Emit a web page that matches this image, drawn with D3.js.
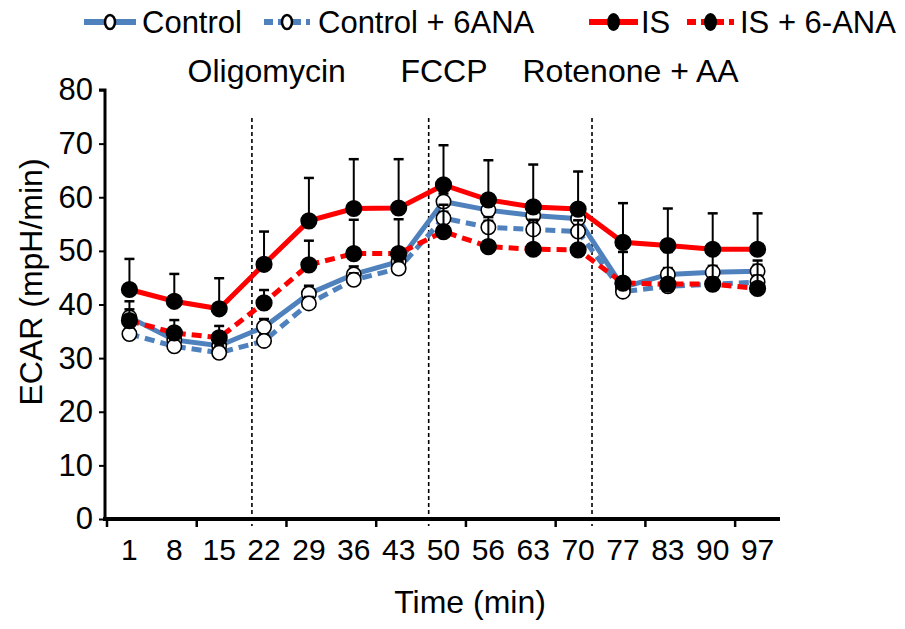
<!DOCTYPE html>
<html><head><meta charset="utf-8">
<script src="https://cdn.jsdelivr.net/npm/d3@7"></script>
<style>body{margin:0;background:#fff}svg{display:block}text{font-family:"Liberation Sans",Arial,sans-serif;fill:#000}</style>
</head><body><svg id="c" width="905" height="629"></svg>
<script>
const times = ["1","8","15","22","29","36","43","50","56","63","70","77","83","90","97"];
const yTicks = [0,10,20,30,40,50,60,70,80];
const control    = [37.6,33.4,32.3,35.8,42.0,45.6,48.0,59.2,57.6,56.6,56.0,43.2,45.6,46.0,46.2];
const controlErr = [1.5,1.2,1.2,1.5,1.5,1.5,1.5,1.5,1.5,1.5,1.5,1.2,1.2,1.2,1.2];
const control6   = [34.5,32.2,31.0,33.2,40.2,44.6,46.7,56.1,54.4,54.0,53.6,42.4,43.4,43.8,44.2];
const control6Err= [1.2,1.2,1.2,1.2,1.2,1.2,1.2,1.2,1.2,1.2,1.2,1.2,1.2,1.2,1.2];
const isVals     = [42.8,40.6,39.2,47.5,55.6,57.9,58.0,62.3,59.5,58.2,57.8,51.6,51.0,50.3,50.3];
const isErr      = [5.7,5.1,5.7,6.1,8.0,9.2,9.1,7.4,7.4,7.9,7.0,7.3,6.9,6.7,6.7];
const is6        = [37.0,34.7,33.8,40.3,47.4,49.5,49.5,53.6,50.8,50.3,50.2,44.0,43.8,43.8,43.0];
const is6Err     = [3.6,2.4,2.2,2.4,4.5,6.3,6.4,5.0,5.5,5.5,5.5,5.8,6.0,5.5,5.2];
const seriesNames = ["Control","Control + 6ANA","IS","IS + 6-ANA"];
const injections = ["Oligomycin","FCCP","Rotenone + AA"];
const injectionAt = [3.23,7.17,10.81];      // in category units
const injectionLabelAt = [3.56,7.51,11.67];  // label centres, category units

const svg = d3.select("#c");
const L=107, R=780, T=90, B=519;
const x = d3.scaleBand().domain(times).range([L,R]).padding(0);
const xu = d3.scaleLinear().domain([0,times.length]).range([L,R]);
const y = d3.scaleLinear().domain([0,80]).range([B,T]);
const cx = d => x(d)+x.bandwidth()/2;

const blue="#4f81bd", red="#ff0000";
const series = [
  {name:seriesNames[0], v:control,  e:controlErr,  color:blue, dash:null,    fill:"#fff"},
  {name:seriesNames[1], v:control6, e:control6Err, color:blue, dash:"10,6",  fill:"#fff"},
  {name:seriesNames[2], v:isVals,   e:isErr,       color:red,  dash:null,    fill:"#000"},
  {name:seriesNames[3], v:is6,      e:is6Err,      color:red,  dash:"10,6",  fill:"#000"}
];

// injection dashed lines
svg.selectAll(".inj").data(injectionAt).join("line")
  .attr("x1",d=>xu(d)).attr("x2",d=>xu(d)).attr("y1",118).attr("y2",526)
  .attr("stroke","#000").attr("stroke-width",1.6).attr("stroke-dasharray","4,3");
svg.selectAll(".injl").data(injections).join("text")
  .attr("x",(d,i)=>xu(injectionLabelAt[i])).attr("y",82)
  .attr("text-anchor","middle").attr("font-size",32).text(d=>d);

// axes
const ya = svg.append("g").attr("transform",`translate(${L-2},0)`)
  .call(d3.axisLeft(y).tickValues(yTicks).tickSize(6).tickPadding(6));
ya.select(".domain").attr("stroke-width",3).attr("d",`M-6,${T}H0V${B+2}`);
ya.selectAll(".tick line").attr("stroke-width",2);
ya.selectAll("text").attr("font-size",31).style("font-family","Liberation Sans, Arial");

const xa = svg.append("g").attr("transform",`translate(0,${B})`)
  .call(d3.axisBottom(x).tickSize(0).tickPadding(20));
xa.select(".domain").attr("stroke-width",4).attr("d",`M${L-4},0H${R}`);
xa.selectAll("text").attr("font-size",30).style("font-family","Liberation Sans, Arial");
xa.selectAll(".tick line").remove();
// tick marks at every second category boundary
svg.append("g").selectAll("line").data(times.filter((d,i)=>i%2===0)).join("line")
  .attr("x1",d=>x(d)).attr("x2",d=>x(d)).attr("y1",B).attr("y2",B+8)
  .attr("stroke","#000").attr("stroke-width",2.5);

svg.append("text").attr("transform",`translate(42,282) rotate(-90)`)
  .attr("text-anchor","middle").attr("font-size",32).text("ECAR (mpH/min)");
svg.append("text").attr("x",470).attr("y",613).attr("text-anchor","middle")
  .attr("font-size",32).text("Time (min)");

// series
const line = d3.line().x((d,i)=>cx(times[i])).y(d=>y(d));
series.forEach(s=>{
  svg.append("path").datum(s.v).attr("d",line).attr("fill","none")
    .attr("stroke",s.color).attr("stroke-width",5).attr("stroke-dasharray",s.dash);
});
series.forEach(s=>{
  const g = svg.append("g");
  g.selectAll(".eb").data(s.v).join("line")
    .attr("x1",(d,i)=>cx(times[i])).attr("x2",(d,i)=>cx(times[i]))
    .attr("y1",d=>y(d)).attr("y2",(d,i)=>y(d+s.e[i]))
    .attr("stroke","#000").attr("stroke-width",2);
  g.selectAll(".cap").data(s.v).join("line")
    .attr("x1",(d,i)=>cx(times[i])-5).attr("x2",(d,i)=>cx(times[i])+5)
    .attr("y1",(d,i)=>y(d+s.e[i])).attr("y2",(d,i)=>y(d+s.e[i]))
    .attr("stroke","#000").attr("stroke-width",2.5);
  g.selectAll("circle").data(s.v).join("circle")
    .attr("cx",(d,i)=>cx(times[i])).attr("cy",d=>y(d))
    .attr("r",s.fill==="#000"?7.8:7.2).attr("fill",s.fill).attr("stroke","#000").attr("stroke-width",1.6);
});

// legend
const legX = [[84,136],[264,310],[589,638],[687,734]];
const legTextX = [142,318,641,740];
const ly = 22;
series.forEach((s,i)=>{
  const g = svg.append("g");
  g.append("line").attr("x1",legX[i][0]).attr("x2",legX[i][1]).attr("y1",ly).attr("y2",ly)
    .attr("stroke",s.color).attr("stroke-width",6).attr("stroke-dasharray",s.dash?"9,5":null);
  const mx=(legX[i][0]+legX[i][1])/2;
  if(s.fill==="#000") g.append("ellipse").attr("cx",mx).attr("cy",ly).attr("rx",6.5).attr("ry",9).attr("fill","#000");
  else g.append("ellipse").attr("cx",mx).attr("cy",ly).attr("rx",5).attr("ry",7).attr("fill","#fff").attr("stroke","#000").attr("stroke-width",2.5);
  g.append("text").attr("x",legTextX[i]).attr("y",ly+11).attr("font-size",31).text(s.name);
});
</script></body></html>
